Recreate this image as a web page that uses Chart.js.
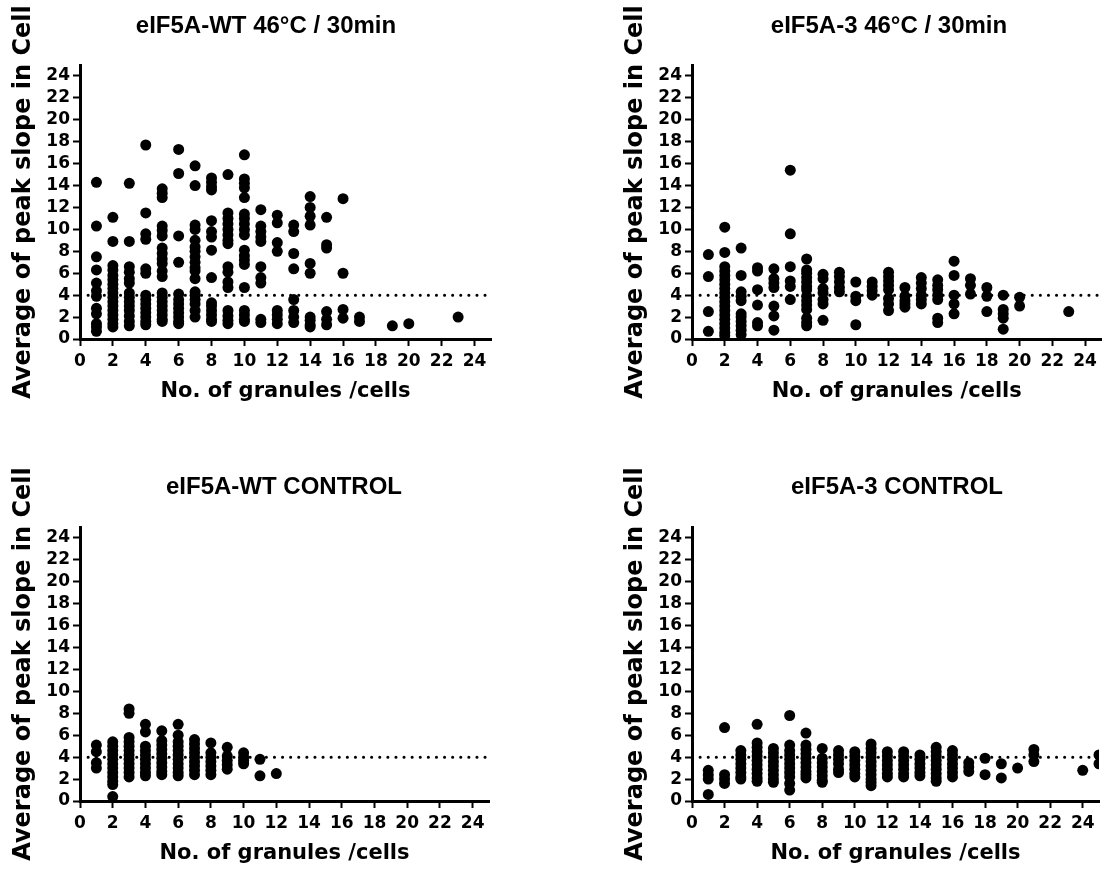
<!DOCTYPE html>
<html>
<head>
<meta charset="utf-8">
<script src="https://cdn.jsdelivr.net/npm/chart.js@4.4.1/dist/chart.umd.min.js"></script>
<style>
  body { margin: 0; background: #fff; }
  #page { position: relative; width: 1107px; height: 869px; overflow: hidden; }
  .panel { position: absolute; }
  .title { position: absolute; width: 400px; text-align: center; color: #000; z-index: 2;
           font: bold 24px "Liberation Sans", Arial, sans-serif; line-height: 28px; white-space: nowrap; }
</style>
</head>
<body>
<div id="page">
  <div class="panel" style="left:0; top:0; width:553px; height:405px"><canvas id="wtHeat"></canvas></div>
  <div class="panel" style="left:612px; top:0; width:495px; height:405px"><canvas id="mutHeat"></canvas></div>
  <div class="panel" style="left:0; top:462px; width:553px; height:405px"><canvas id="wtCtrl"></canvas></div>
  <div class="panel" style="left:612px; top:462px; width:495px; height:405px"><canvas id="mutCtrl"></canvas></div>

  <div class="title" style="left:66px; top:11px">eIF5A-WT 46°C / 30min</div>
  <div class="title" style="left:689px; top:11px">eIF5A-3 46°C / 30min</div>
  <div class="title" style="left:84px; top:472px">eIF5A-WT CONTROL</div>
  <div class="title" style="left:697px; top:472px">eIF5A-3 CONTROL</div>
</div>

<script>
// values: granules per cell (x) and the slopes seen in each column (y)
const wtHeatGranules = [1, 2, 3, 4, 5, 6, 7, 8, 9, 10, 11, 12, 13, 14, 15, 16, 17, 19, 20, 23];
const wtHeatSlopes = [
    [14.3, 10.3, 7.5, 6.3, 5.1, 4.4, 3.9, 2.8, 2.3, 1.4, 1.1, 0.7],
    [11.1, 8.9, 6.7, 6.3, 5.8, 5.4, 5.0, 4.6, 4.2, 3.8, 3.4, 3.0, 2.6, 2.2, 1.8, 1.4, 1.1],
    [14.2, 8.9, 6.6, 6.1, 5.5, 5.1, 4.2, 3.8, 3.4, 3.0, 2.6, 2.1, 1.6, 1.2],
    [17.7, 11.5, 9.6, 9.1, 6.4, 6.0, 4.0, 3.6, 3.2, 2.8, 2.4, 2.0, 1.6, 1.3],
    [13.7, 13.3, 12.9, 10.3, 9.9, 9.4, 8.3, 7.8, 7.3, 6.9, 6.2, 5.7, 4.2, 3.8, 3.4, 3.0, 2.6, 2.2, 1.8, 1.6],
    [17.3, 15.1, 9.4, 7.0, 4.1, 3.6, 3.2, 2.8, 2.4, 2.0, 1.6, 1.4],
    [15.8, 14.0, 10.4, 10.0, 9.0, 8.4, 8.0, 7.5, 7.0, 6.5, 6.2, 5.5, 4.3, 4.0, 3.6, 3.2, 2.6, 2.0],
    [14.7, 14.3, 13.9, 13.6, 10.8, 9.8, 9.3, 8.1, 5.6, 3.3, 3.0, 2.6, 2.2, 1.8, 1.6],
    [15.0, 11.5, 11.0, 10.5, 10.0, 9.5, 9.0, 8.7, 6.6, 6.1, 5.2, 4.7, 2.6, 2.1, 1.7, 1.4],
    [16.8, 14.6, 14.2, 13.8, 12.9, 11.4, 11.0, 10.5, 10.0, 9.5, 8.1, 7.6, 7.2, 6.8, 4.7, 2.6, 2.2, 1.8, 1.6],
    [11.8, 10.3, 9.8, 9.3, 8.9, 6.6, 5.6, 5.1, 1.8, 1.5],
    [11.3, 10.6, 8.8, 8.0, 2.6, 2.2, 1.8, 1.4],
    [10.4, 9.8, 7.8, 6.4, 3.6, 2.6, 2.0, 1.5],
    [13.0, 12.0, 11.2, 10.4, 6.9, 6.0, 2.0, 1.7, 1.3, 1.1],
    [11.1, 8.6, 8.3, 2.5, 1.8, 1.3],
    [12.8, 6.0, 2.7, 1.9],
    [2.0, 1.6],
    [1.2],
    [1.4],
    [2.0]
];

const mutHeatGranules = [1, 2, 3, 4, 5, 6, 7, 8, 9, 10, 11, 12, 13, 14, 15, 16, 17, 18, 19, 20, 23];
const mutHeatSlopes = [
    [7.7, 5.7, 2.5, 0.7],
    [10.2, 7.9, 6.6, 6.2, 5.8, 5.4, 5.0, 4.6, 4.2, 3.8, 3.4, 3.0, 2.6, 2.2, 1.8, 1.4, 1.0, 0.6, 0.3],
    [8.3, 5.8, 4.3, 3.9, 3.5, 2.3, 2.0, 1.6, 1.2, 0.8, 0.4],
    [6.5, 6.2, 4.5, 3.1, 1.5, 1.2],
    [6.4, 5.5, 5.1, 4.7, 3.0, 2.1, 0.8],
    [15.4, 9.6, 6.6, 5.3, 4.8, 3.6],
    [7.3, 6.3, 6.0, 5.6, 5.2, 4.8, 4.5, 3.9, 3.5, 3.1, 2.7, 1.9, 1.5, 1.2],
    [5.9, 5.5, 4.6, 4.2, 3.6, 3.2, 1.7],
    [6.1, 5.7, 5.2, 4.7, 4.3],
    [5.2, 3.9, 3.5, 1.3],
    [5.2, 4.8, 4.4, 4.0],
    [6.1, 5.7, 5.3, 4.9, 4.5, 3.7, 3.2, 2.6],
    [4.7, 3.9, 3.5, 3.2, 2.9],
    [5.6, 5.1, 4.6, 4.0, 3.6, 3.2],
    [5.4, 4.9, 4.5, 4.0, 3.6, 1.9, 1.5],
    [7.1, 5.8, 4.0, 3.2, 2.3],
    [5.5, 4.9, 4.1],
    [4.7, 3.9, 2.5],
    [4.0, 2.7, 2.3, 1.9, 0.9],
    [3.8, 3.0],
    [2.5]
];

const wtCtrlGranules = [1, 2, 3, 4, 5, 6, 7, 8, 9, 10, 11, 12];
const wtCtrlSlopes = [
    [5.1, 4.5, 3.5, 3.0],
    [5.4, 5.0, 4.6, 4.2, 3.8, 3.4, 3.0, 2.6, 2.2, 1.8, 1.5, 0.4],
    [8.4, 8.0, 5.8, 5.4, 5.0, 4.6, 4.2, 3.8, 3.4, 3.0, 2.6, 2.2],
    [7.0, 6.3, 5.0, 4.6, 4.2, 3.8, 3.4, 3.0, 2.6, 2.3],
    [6.4, 5.5, 5.1, 4.7, 4.3, 3.9, 3.5, 3.1, 2.7, 2.4],
    [7.0, 6.0, 5.4, 5.0, 4.6, 4.2, 3.8, 3.4, 3.0, 2.6, 2.3],
    [5.6, 5.2, 4.8, 4.4, 4.0, 3.6, 3.2, 2.8, 2.4],
    [5.3, 4.4, 4.0, 3.6, 3.2, 2.8, 2.4],
    [4.9, 4.1, 3.7, 3.3, 2.9],
    [4.4, 4.0, 3.7, 3.4],
    [3.8, 2.3],
    [2.5]
];

const mutCtrlGranules = [1, 2, 3, 4, 5, 6, 7, 8, 9, 10, 11, 12, 13, 14, 15, 16, 17, 18, 19, 20, 21, 24, 25];
const mutCtrlSlopes = [
    [2.8, 2.4, 2.0, 0.6],
    [6.7, 2.4, 2.0, 1.6],
    [4.6, 4.2, 3.8, 3.4, 3.0, 2.6, 2.2, 2.0],
    [7.0, 5.3, 4.9, 4.5, 4.1, 3.7, 3.3, 2.9, 2.5, 2.1, 1.8],
    [4.8, 4.4, 4.0, 3.6, 3.2, 2.8, 2.4, 2.0, 1.7],
    [7.8, 5.1, 4.6, 4.2, 3.8, 3.4, 3.0, 2.6, 2.2, 1.6, 1.0],
    [6.2, 5.1, 4.7, 4.3, 3.9, 3.5, 3.1, 2.7, 2.4, 2.1],
    [4.8, 3.9, 3.5, 3.1, 2.7, 2.3, 1.9, 1.7],
    [4.6, 4.2, 3.8, 3.4, 2.9, 2.6],
    [4.5, 4.1, 3.7, 3.3, 2.9, 2.5, 2.2],
    [5.2, 4.8, 4.4, 4.0, 3.6, 3.2, 2.8, 2.4, 2.0, 1.7, 1.4],
    [4.5, 4.1, 3.7, 3.3, 2.9, 2.5, 2.2],
    [4.5, 4.1, 3.7, 3.3, 2.9, 2.5, 2.2],
    [4.2, 3.8, 3.4, 3.0, 2.6, 2.3],
    [4.9, 4.5, 4.1, 3.7, 3.3, 2.9, 2.5, 2.1, 1.8],
    [4.6, 4.2, 3.8, 3.4, 3.0, 2.6, 2.2],
    [3.5, 3.1, 2.7],
    [3.9, 2.4],
    [3.4, 2.1],
    [3.0],
    [4.7, 4.2, 3.6],
    [2.8],
    [4.2, 3.4]
];

const threshold = 4;      // dotted reference line
const axisMax = 25;
const tickStep = 2;
const xTitle = 'No. of granules /cells';
const yTitle = 'Average of peak slope in Cell';

const tickFont = { family: '"DejaVu Sans", sans-serif', size: 17, weight: 'bold' };
const xTitleFont = { family: '"DejaVu Sans", sans-serif', size: 21, weight: 'bold' };
const yTitleFont = { family: '"DejaVu Sans", sans-serif', size: 24, weight: 'bold' };

function toPoints(granules, slopes) {
    const pts = [];
    granules.forEach((g, i) => {
        slopes[i].forEach(v => pts.push({ x: g, y: v }));
    });
    return pts;
}

function drawPanel(id, granules, slopes, rightPad) {
    new Chart(document.getElementById(id), {
        type: 'scatter',
        data: {
            datasets: [
                {
                    data: toPoints(granules, slopes),
                    pointRadius: 5.5,
                    pointBackgroundColor: '#000',
                    pointBorderWidth: 0,
                    pointHoverRadius: 5.5
                },
                {
                    data: [{ x: 0, y: threshold }, { x: axisMax, y: threshold }],
                    showLine: true,
                    borderColor: '#000',
                    borderWidth: 3,
                    borderDash: [0.1, 8],
                    borderCapStyle: 'round',
                    pointRadius: 0
                }
            ]
        },
        options: {
            responsive: true,
            maintainAspectRatio: false,
            animation: false,
            events: [],
            layout: { padding: { left: 0, right: rightPad, top: 65, bottom: 0 } },
            plugins: { legend: { display: false }, tooltip: { enabled: false } },
            scales: {
                x: {
                    type: 'linear', min: 0, max: axisMax,
                    afterFit: s => { s.height = 66; },
                    ticks: { stepSize: tickStep, includeBounds: false, autoSkip: false, maxRotation: 0,
                             padding: 5, color: '#000', font: tickFont },
                    grid: { drawOnChartArea: false, tickLength: 7, tickWidth: 2, tickColor: '#000' },
                    border: { display: true, color: '#000', width: 3 },
                    title: { display: true, text: xTitle, color: '#000', font: xTitleFont, padding: { top: 0, bottom: 1 } }
                },
                y: {
                    type: 'linear', min: 0, max: axisMax,
                    afterFit: s => { s.width = 80; },
                    ticks: { stepSize: tickStep, includeBounds: false, autoSkip: false,
                             padding: 3, color: '#000', font: tickFont },
                    grid: { drawOnChartArea: false, tickLength: 7, tickWidth: 2, tickColor: '#000' },
                    border: { display: true, color: '#000', width: 3 },
                    title: { display: true, text: yTitle, color: '#000', font: yTitleFont, padding: { top: 9, bottom: 0 } }
                }
            }
        }
    });
}

drawPanel('wtHeat', wtHeatGranules, wtHeatSlopes, 62);
drawPanel('mutHeat', mutHeatGranules, mutHeatSlopes, 4);
drawPanel('wtCtrl', wtCtrlGranules, wtCtrlSlopes, 64);
drawPanel('mutCtrl', mutCtrlGranules, mutCtrlSlopes, 8);
</script>
</body>
</html>
